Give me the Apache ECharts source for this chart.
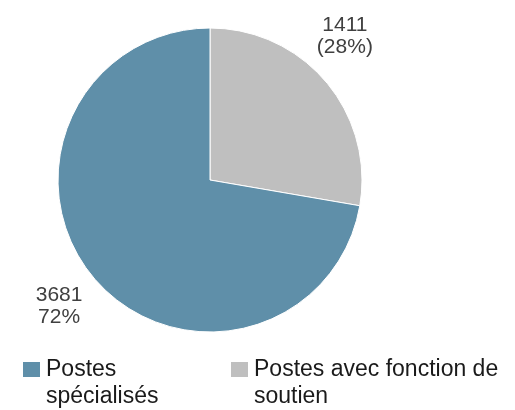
<!DOCTYPE html>
<html><head><meta charset="utf-8">
<script src="https://cdn.jsdelivr.net/npm/echarts@6/dist/echarts.min.js"></script>
<style>html,body{margin:0;padding:0;background:#fff}#c{width:515px;height:410px}</style>
</head><body><div id="c"></div>
<script>
const categories = ['Postes avec fonction de soutien', 'Postes spécialisés'];
const values = [1411, 3681];
const legendLabels = ['Postes avec fonction de\nsoutien', 'Postes\nspécialisés'];
const colors = ['#bfbfbf', '#5f8fa9'];

const chart = echarts.init(document.getElementById('c'), null, {renderer: 'canvas'});
const cx = 210, cy = 180, R = 152, labelDist = 196;
const total = values.reduce((a, b) => a + b, 0);
function midAngle(i) {
  let s = 0;
  for (let k = 0; k < i; k++) s += values[k];
  return (s + values[i] / 2) / total * 2 * Math.PI;
}
const nudge = [[-15, -17], [-1, 0]];
const FONT = 'Liberation Sans, Arial, sans-serif';
const legendText = {
  fontFamily: FONT, fontSize: 23, lineHeight: 27, color: '#1a1a1a'
};
function legendFmt(name) { return '\n' + legendLabels[categories.indexOf(name)]; }
const option = {
  animation: false,
  color: colors,
  legend: [
    {left: 21, top: 329, padding: 0, itemWidth: 19, itemHeight: 17, itemGap: 8,
     icon: 'rect', data: [categories[1]], textStyle: legendText, formatter: legendFmt, selectedMode: false},
    {left: 229, top: 329, padding: 0, itemWidth: 19, itemHeight: 17, itemGap: 8,
     icon: 'rect', data: [categories[0]], textStyle: legendText, formatter: legendFmt, selectedMode: false}
  ],
  series: [{
    type: 'pie',
    center: [cx, cy],
    radius: R,
    startAngle: 90,
    clockwise: true,
    data: categories.map((n, i) => ({name: n, value: values[i]})),
    itemStyle: {borderColor: '#ffffff', borderWidth: 1},
    label: {
      show: true,
      position: 'inside',
      fontFamily: FONT, fontSize: 21, lineHeight: 22, color: '#404040',
      formatter: function (p) {
        const pct = Math.round(p.percent);
        return p.dataIndex === 0 ? p.value + '\n(' + pct + '%)' : p.value + '\n' + pct + '%';
      }
    },
    labelLine: {show: false},
    labelLayout: function (p) {
      const a = midAngle(p.dataIndex);
      return {
        x: cx + labelDist * Math.sin(a) + nudge[p.dataIndex][0],
        y: cy - labelDist * Math.cos(a) + nudge[p.dataIndex][1],
        align: 'center', verticalAlign: 'middle'
      };
    },
    emphasis: {disabled: true}
  }]
};
chart.setOption(option);
</script>
</body></html>
